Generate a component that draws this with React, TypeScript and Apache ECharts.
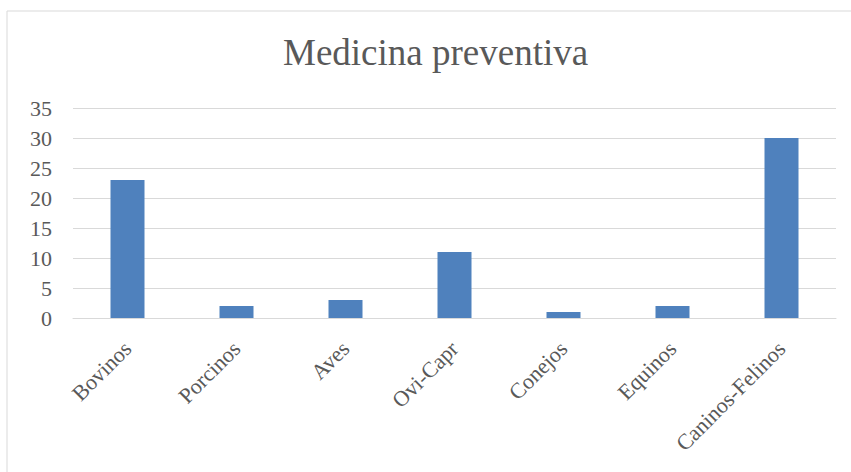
import React, { useEffect, useRef } from "react";
import * as echarts from "echarts";

const categories = ["Bovinos", "Porcinos", "Aves", "Ovi-Capr", "Conejos", "Equinos", "Caninos-Felinos"];
const values = [23, 2, 3, 11, 1, 2, 30];
const titleText = "Medicina preventiva";

export default function App() {
  const ref = useRef<HTMLDivElement>(null);
  useEffect(() => {
    if (!ref.current) return;
    const chart = echarts.init(ref.current, null, { renderer: "svg" });
    const font = "'Liberation Serif', 'Times New Roman', serif";
    chart.setOption({
      animation: false,
      backgroundColor: "#ffffff",
      title: {
        text: titleText,
        left: 283,
        top: 34,
        padding: 0,
        textStyle: { fontFamily: font, fontSize: 37, fontWeight: "normal", color: "#595959" },
      },
      graphic: [
        {
          type: "rect",
          shape: { x: 7, y: 11, width: 870, height: 490 },
          style: { fill: "none", stroke: "#d9d9d9", lineWidth: 1 },
          silent: true,
        },
      ],
      grid: { left: 73, right: 15, top: 108, bottom: 154, containLabel: false },
      xAxis: {
        type: "category",
        data: categories,
        axisLine: { lineStyle: { color: "#d9d9d9", width: 1 } },
        axisTick: { show: false },
        axisLabel: {
          rotate: 45,
          interval: 0,
          margin: 27,
          fontFamily: font,
          fontSize: 22,
          color: "#595959",
        },
      },
      yAxis: {
        type: "value",
        min: 0,
        max: 35,
        interval: 5,
        axisLine: { show: false },
        axisTick: { show: false },
        splitLine: { lineStyle: { color: "#d9d9d9", width: 1 } },
        axisLabel: { fontFamily: font, fontSize: 22, color: "#595959", margin: 21 },
      },
      series: [
        {
          type: "bar",
          data: values,
          barWidth: 34,
          itemStyle: { color: "#4f81bd" },
        },
      ],
    });
    return () => chart.dispose();
  }, []);
  return <div ref={ref} style={{ position: "fixed", left: 0, top: 0, width: 851, height: 472 }} />;
}
